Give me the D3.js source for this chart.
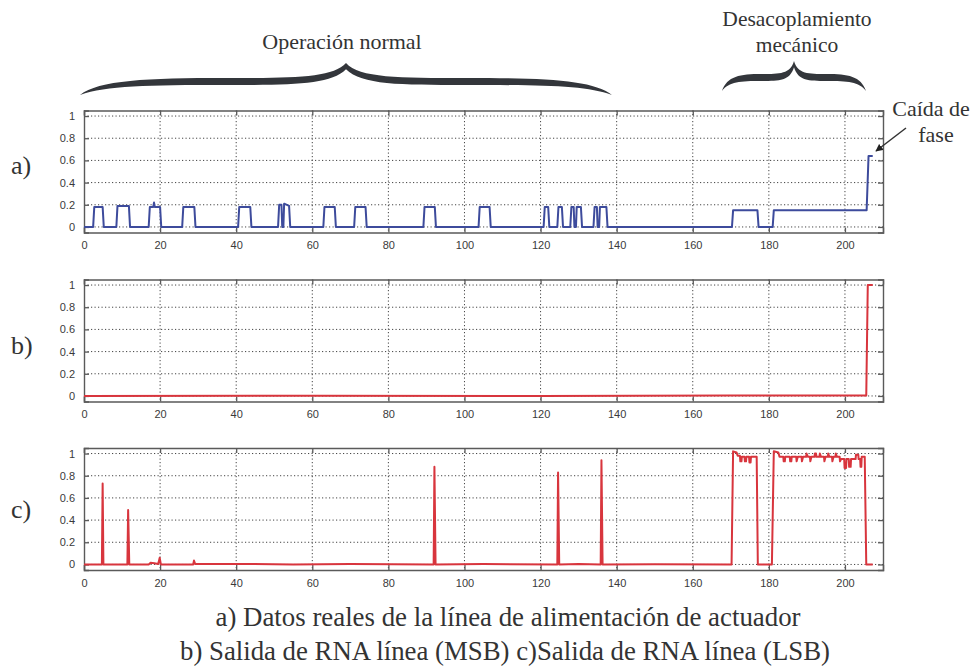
<!DOCTYPE html>
<html>
<head>
<meta charset="utf-8">
<script src="https://cdn.jsdelivr.net/npm/d3@7"></script>
<style>
  body { margin: 0; background: #fff; }
  text { font-family: "Liberation Serif", "Times New Roman", serif; }
  .tick-label { font-family: "Liberation Sans", Arial, sans-serif; font-size: 11px; fill: #3a3a3a; }
</style>
</head>
<body>
<svg id="fig" width="972" height="667"></svg>
<script>
// Axis ticks shared by the three panels
const xTicks = [0, 20, 40, 60, 80, 100, 120, 140, 160, 180, 200];
const yTicks = [0, 0.2, 0.4, 0.6, 0.8, 1];
const yTickLabels = ["0", "0.2", "0.4", "0.6", "0.8", "1"];

// a) measured actuator supply line
const timeA = [0, 2.4, 2.7, 4.9, 5.2, 8.5, 8.8, 11.8, 12.1, 17.0, 17.3, 18.2, 18.4, 18.6, 20.0, 20.3,
  25.8, 26.1, 29.0, 29.3, 40.5, 40.8, 43.7, 44.0, 51.0, 51.3, 51.9, 52.1, 52.4, 52.6, 53.9, 54.2,
  62.9, 63.2, 65.9, 66.2, 71.0, 71.3, 74.0, 74.3, 89.2, 89.5, 92.2, 92.5, 103.7, 104.0, 106.6, 106.9,
  120.8, 121.1, 122.0, 122.3, 124.4, 124.7, 125.6, 125.9, 127.8, 128.1, 128.7, 128.9, 129.3, 129.5, 130.6, 130.9,
  133.9, 134.2, 134.8, 135.0, 135.4, 135.6, 137.3, 137.6, 170.3, 170.6, 177.0, 177.3, 181.0, 181.3, 205.7, 206.2, 207.3];
const valueA = [0, 0, 0.18, 0.18, 0, 0, 0.19, 0.19, 0, 0, 0.18, 0.18, 0.22, 0.18, 0.18, 0,
  0, 0.18, 0.18, 0, 0, 0.18, 0.18, 0, 0, 0.2, 0.2, 0, 0, 0.21, 0.19, 0,
  0, 0.18, 0.18, 0, 0, 0.18, 0.18, 0, 0, 0.18, 0.18, 0, 0, 0.18, 0.18, 0,
  0, 0.18, 0.18, 0, 0, 0.18, 0.18, 0, 0, 0.18, 0.18, 0, 0, 0.18, 0.18, 0,
  0, 0.18, 0.18, 0, 0, 0.18, 0.18, 0, 0, 0.15, 0.15, 0, 0, 0.15, 0.15, 0.64, 0.64];

// b) network output, most significant bit
const timeB = [0, 60, 120, 170, 205.6, 206.0, 207.3];
const valueB = [0, 0.002, 0, 0.003, 0.003, 1.0, 1.0];

// c) network output, least significant bit
const timeC = [0, 4.7, 4.9, 5.1, 11.4, 11.6, 11.9, 17.0, 17.5, 18.5, 19.5, 19.9, 20.2, 28.7, 28.9, 29.2,
  40, 55, 70, 91.9, 92.1, 92.4, 105, 124.4, 124.6, 124.9, 130, 135.8, 136.0, 136.3, 150, 170.2,
  170.6, 171.5, 171.8, 172.4, 172.5, 172.8, 172.9, 173.6, 173.7, 174.0, 174.1, 174.8, 174.9, 175.2, 175.3, 176.8, 177.1,
  180.8, 181.3, 182.5, 182.8, 183.8, 183.9, 184.2, 184.3, 185.5, 185.6, 185.9, 186.0, 187.2, 187.3, 187.6,
  188.6, 188.7, 189.0, 189.8, 189.9, 190.3, 190.8, 190.9, 191.2, 192.0, 192.1, 192.4, 192.5, 193.3, 193.4, 193.7,
  194.5, 194.6, 194.9, 195.5, 195.6, 195.9, 196.6, 196.7, 197.0, 197.5, 197.6, 197.9, 198.6, 198.7, 199.0,
  199.8, 199.9, 200.3, 200.4, 201.0, 201.1, 201.5, 201.6, 202.8, 202.9, 203.5, 203.6, 204.0, 204.1, 204.3, 204.4,
  205.2, 205.6, 207.3];
const valueC = [0, 0, 0.73, 0, 0, 0.49, 0, 0, 0.015, 0.01, 0.005, 0.06, 0, 0, 0.035, 0.005,
  0.005, 0, 0.005, 0, 0.88, 0, 0.003, 0, 0.83, 0, 0.003, 0, 0.94, 0, 0.002, 0,
  1.02, 1.01, 0.98, 0.98, 0.93, 0.93, 0.97, 0.97, 0.93, 0.93, 0.97, 0.97, 0.92, 0.92, 0.97, 0.97, 0,
  0, 1.02, 1.01, 0.97, 0.97, 0.93, 0.93, 0.97, 0.97, 0.93, 0.93, 0.97, 0.97, 0.93, 0.97,
  0.97, 0.93, 0.97, 0.97, 1.0, 0.97, 0.97, 0.93, 0.97, 0.97, 1.0, 1.0, 0.97, 0.97, 1.0, 0.97,
  0.97, 0.93, 0.97, 0.97, 1.0, 0.97, 0.97, 0.93, 0.97, 0.97, 1.0, 0.97, 0.97, 0.93, 0.95,
  0.95, 0.87, 0.87, 0.95, 0.95, 0.88, 0.88, 0.95, 0.95, 0.99, 0.99, 0.95, 0.95, 0.88, 0.88, 0.97,
  0.97, 0, 0];

const panels = [
  { label: "a)", top: 110.5, bottom: 232.5, labelY: 168, t: timeA, v: valueA, color: "#3d4b9c" },
  { label: "b)", top: 279.5, bottom: 401.5, labelY: 348, t: timeB, v: valueB, color: "#d8353d" },
  { label: "c)", top: 448, bottom: 570, labelY: 512, t: timeC, v: valueC, color: "#d8353d" }
];

const svg = d3.select("#fig");
const x = d3.scaleLinear().domain([0, 210]).range([84, 883]);

panels.forEach(p => {
  const y = d3.scaleLinear().domain([-0.05, 1.05]).range([p.bottom, p.top]);
  const g = svg.append("g");

  // dotted grid
  g.append("g").selectAll("line").data(xTicks.slice(1)).join("line")
    .attr("x1", d => x(d)).attr("x2", d => x(d))
    .attr("y1", p.top).attr("y2", p.bottom)
    .attr("stroke", "#444").attr("stroke-width", 1).attr("stroke-dasharray", "1.2,2.3");
  g.append("g").selectAll("line").data(yTicks).join("line")
    .attr("x1", x(0)).attr("x2", x(210))
    .attr("y1", d => y(d)).attr("y2", d => y(d))
    .attr("stroke", "#444").attr("stroke-width", 1).attr("stroke-dasharray", "1.2,2.3");

  // axes with inward ticks on all four sides
  const bottomAxis = d3.axisBottom(x).tickValues(xTicks).tickSize(-5).tickPadding(9).tickFormat(d3.format("d"));
  const topAxis = d3.axisTop(x).tickValues(xTicks).tickSize(-5).tickFormat("");
  const leftAxis = d3.axisLeft(y).tickValues(yTicks).tickSize(-5).tickPadding(9).tickFormat((d, i) => yTickLabels[i]);
  const rightAxis = d3.axisRight(y).tickValues(yTicks).tickSize(-5).tickFormat("");

  [[bottomAxis, `translate(0,${p.bottom})`], [topAxis, `translate(0,${p.top})`],
   [leftAxis, `translate(${x(0)},0)`], [rightAxis, `translate(${x(210)},0)`]].forEach(([ax, tr]) => {
    const a = g.append("g").attr("transform", tr).call(ax);
    a.select(".domain").attr("stroke", "#5a5a5a").attr("stroke-width", 1.4);
    a.selectAll(".tick line").attr("stroke", "#5a5a5a").attr("stroke-width", 1.3);
    a.selectAll(".tick text").attr("class", "tick-label").attr("font-family", null).attr("font-size", null);
  });

  // signal trace
  const pts = p.t.map((t, i) => [t, p.v[i]]);
  g.append("path")
    .datum(pts)
    .attr("fill", "none")
    .attr("stroke", p.color)
    .attr("stroke-width", 2)
    .attr("stroke-linejoin", "round")
    .attr("d", d3.line().x(d => x(d[0])).y(d => y(d[1])));

  // panel letter
  svg.append("text").attr("x", 11).attr("y", p.labelY).attr("dominant-baseline", "middle")
    .attr("font-size", 26).attr("fill", "#333").text(p.label);
});

// curly braces above the operating regions
function brace(x0, x1, yTip, yArm, yEnd, th) {
  const xc = (x0 + x1) / 2;
  const half = (s, h) => ({
    top: [[xc + s * 0.05 * h, yArm - th], [xc + s * 0.2 * h, yArm - th], [xc + s * 0.45 * h, yArm - th],
          [xc + s * 0.75 * h, yArm - th], [xc + s * 0.93 * h, yArm - th * 0.7], [xc + s * h, yEnd]],
    bot: [[xc + s * 0.9 * h, yArm + 0.5], [xc + s * 0.75 * h, yArm], [xc + s * 0.45 * h, yArm],
          [xc + s * 0.2 * h, yArm], [xc + s * 0.06 * h, yArm], [xc, yTip + th * 0.9]]
  });
  const L = half(-1, xc - x0), R = half(1, x1 - xc);
  const P = a => a.join(",");
  return `M${P(L.top[5])}C${P(L.top[4])} ${P(L.top[3])} ${P(L.top[2])}C${P(L.top[1])} ${P(L.top[0])} ${xc},${yTip}` +
    `C${P(R.top[0])} ${P(R.top[1])} ${P(R.top[2])}C${P(R.top[3])} ${P(R.top[4])} ${P(R.top[5])}` +
    `C${P(R.bot[0])} ${P(R.bot[1])} ${P(R.bot[2])}C${P(R.bot[3])} ${P(R.bot[4])} ${P(R.bot[5])}` +
    `C${P(L.bot[4])} ${P(L.bot[3])} ${P(L.bot[2])}C${P(L.bot[1])} ${P(L.bot[0])} ${P(L.top[5])}Z`;
}
svg.append("path").attr("d", brace(80, 612, 63, 85, 95, 7)).attr("fill", "#33363b");
svg.append("path").attr("d", brace(722, 866, 61, 81, 91, 7)).attr("fill", "#33363b");

svg.append("text").attr("x", 342).attr("y", 49).attr("text-anchor", "middle")
  .attr("font-size", 22).attr("fill", "#333").text("Operación normal");
svg.append("text").attr("x", 797).attr("y", 26).attr("text-anchor", "middle")
  .attr("font-size", 21.5).attr("fill", "#333").text("Desacoplamiento");
svg.append("text").attr("x", 797).attr("y", 52).attr("text-anchor", "middle")
  .attr("font-size", 21.5).attr("fill", "#333").text("mecánico");

// phase-loss annotation
svg.append("defs").append("marker")
  .attr("id", "head").attr("viewBox", "0 0 10 10").attr("refX", 9).attr("refY", 5)
  .attr("markerWidth", 5).attr("markerHeight", 5).attr("orient", "auto")
  .append("path").attr("d", "M0,0L10,5L0,10Z").attr("fill", "#222");
svg.append("line").attr("x1", 906).attr("y1", 128).attr("x2", 876).attr("y2", 151)
  .attr("stroke", "#333").attr("stroke-width", 1.5).attr("marker-end", "url(#head)");
svg.append("text").attr("x", 931).attr("y", 116).attr("text-anchor", "middle")
  .attr("font-size", 22).attr("fill", "#333").text("Caída de");
svg.append("text").attr("x", 936).attr("y", 142).attr("text-anchor", "middle")
  .attr("font-size", 22).attr("fill", "#333").text("fase");

// caption
svg.append("text").attr("x", 508).attr("y", 626).attr("text-anchor", "middle")
  .attr("font-size", 27).attr("fill", "#333")
  .attr("textLength", 585).attr("lengthAdjust", "spacingAndGlyphs")
  .text("a) Datos reales de la línea de alimentación de actuador");
svg.append("text").attr("x", 505).attr("y", 660).attr("text-anchor", "middle")
  .attr("font-size", 27).attr("fill", "#333")
  .attr("textLength", 650).attr("lengthAdjust", "spacingAndGlyphs")
  .text("b) Salida de RNA línea (MSB) c)Salida de RNA línea (LSB)");
</script>
</body>
</html>
